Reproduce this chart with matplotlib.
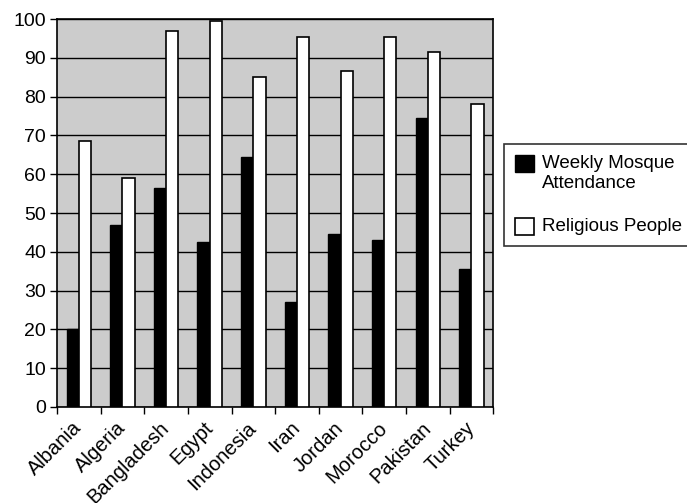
import matplotlib.pyplot as plt
import numpy as np

plt.rcParams['font.family'] = ['Liberation Sans', 'DejaVu Sans']

countries = ['Albania', 'Algeria', 'Bangladesh', 'Egypt', 'Indonesia',
             'Iran', 'Jordan', 'Morocco', 'Pakistan', 'Turkey']
weekly_attendance = [20, 47, 56.5, 42.5, 64.5, 27, 44.5, 43, 74.5, 35.5]
religious_people = [68.5, 59, 97, 99.5, 85, 95.5, 86.5, 95.5, 91.5, 78]

x = np.arange(len(countries))
w = 0.28

fig = plt.figure(figsize=(6.87, 5.03), dpi=100)
ax = fig.add_axes([0.083, 0.191, 0.635, 0.771])
ax.set_facecolor('#cccccc')

ax.bar(x - w / 2, weekly_attendance, w, color='black', edgecolor='black',
       linewidth=1, label='Weekly Mosque\nAttendance', zorder=3)
ax.bar(x + w / 2, religious_people, w, color='white', edgecolor='black',
       linewidth=1.2, label='Religious People', zorder=3)

ax.set_ylim(0, 100)
ax.set_xlim(-0.5, len(countries) - 0.5)
ax.set_yticks(range(0, 101, 10))
ax.yaxis.grid(True, color='black', linewidth=1, zorder=1)
ax.set_axisbelow(True)

ax.set_xticks(x)
ax.set_xticklabels(countries, rotation=45, ha='right', va='center',
                   rotation_mode='anchor')
ax.set_xticks(np.arange(-0.5, len(countries)), minor=True)
ax.tick_params(axis='x', which='major', length=0, pad=13, labelsize=14.5)
ax.tick_params(axis='x', which='minor', length=5, width=1)
ax.tick_params(axis='y', length=5, width=1, labelsize=14, pad=3)

for s in ax.spines.values():
    s.set_linewidth(1.2)
    s.set_color('black')

leg = ax.legend(loc='upper left', bbox_to_anchor=(504 / 687, 1 - 144 / 503),
                bbox_transform=fig.transFigure, fontsize=13.5, frameon=True,
                fancybox=False, edgecolor='black', handlelength=1.0,
                handleheight=1.0, borderpad=0.6, labelspacing=1.35,
                handletextpad=0.45, borderaxespad=0)
leg.get_frame().set_linewidth(1.2)
for t in leg.get_texts():
    t.set_linespacing(1.25)
# put the square next to the first line of a two-line label
for col in leg._legend_handle_box.get_children():
    for item in col.get_children():
        item.align = 'top'

fig.savefig('out.png', dpi=100)
